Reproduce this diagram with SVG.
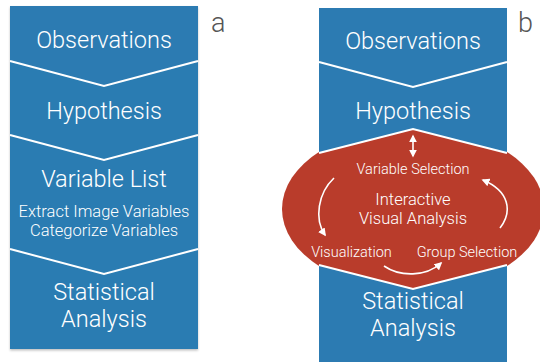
<svg xmlns="http://www.w3.org/2000/svg" width="540" height="362" viewBox="0 0 540 362">
<style>
.blue{fill:#2c7bb2}
.red{fill:#b93c2b}
.sep{fill:none;stroke:#ffffff;stroke-width:2;stroke-linejoin:miter}
.t{font-family:Roboto,"Liberation Sans",sans-serif;font-weight:300;fill:#ffffff;text-anchor:middle}
.big{font-size:23.5px}
.mid{font-size:16.5px}
.sm{font-size:14.5px}
.lsm{font-size:16.5px}
.lbl{font-family:Roboto,"Liberation Sans",sans-serif;font-weight:300;font-size:27px;fill:#555555}
.arr{fill:none;stroke:#ffffff;stroke-width:1.6}
</style>
<defs>
<marker id="ah" viewBox="0 0 10 10" refX="8" refY="5" markerUnits="userSpaceOnUse" markerWidth="8" markerHeight="8" orient="auto-start-reverse">
<path d="M0,0 L10,5 L0,10 z" fill="#ffffff"/>
</marker>
<clipPath id="redclip">
<polygon points="200,100 319,100 319,153 413,129 507,153 507,100 560,100 560,320 507,320 507,265 413,289 319,265 319,320 200,320"/>
</clipPath>
<filter id="sh" x="-5%" y="-5%" width="110%" height="110%">
<feDropShadow dx="0" dy="1.5" stdDeviation="1" flood-color="#000000" flood-opacity="0.25"/>
</filter>
</defs>

<g id="column-a" filter="url(#sh)">
<rect x="10" y="6" width="188" height="343" class="blue"/>
</g>
<g id="observations-a">
<polygon points="10,6 198,6 198,61 104,86 10,61" class="blue"/>
<text x="104" y="48" class="t big">Observations</text>
</g>
<g id="hypothesis-a">
<polyline points="10,61 104,86 198,61" class="sep"/>
<text x="104" y="119" class="t big">Hypothesis</text>
</g>
<g id="variable-list-a">
<polyline points="10,135 104,160 198,135" class="sep"/>
<text x="104" y="187" class="t big">Variable List</text>
<text x="104" y="217" class="t lsm">Extract Image Variables</text>
<text x="104" y="236" class="t lsm">Categorize Variables</text>
</g>
<g id="statistical-a">
<polyline points="10,249 104,274 198,249" class="sep"/>
<text x="104" y="300" class="t big">Statistical</text>
<text x="104" y="327" class="t big">Analysis</text>
</g>
<text x="211" y="32" class="lbl">a</text>

<g id="column-b">
<rect x="319" y="8" width="188" height="360" class="blue"/>
</g>
<g id="observations-b">
<text x="413" y="49" class="t big">Observations</text>
</g>
<g id="hypothesis-b">
<polyline points="319,62 413,87 507,62" class="sep"/>
<text x="413" y="119" class="t big">Hypothesis</text>
</g>
<g id="interactive-visual-analysis-b">
<ellipse cx="413" cy="209" rx="131" ry="82" class="red" clip-path="url(#redclip)"/>
<polyline points="319,153 413,129 507,153" class="sep"/>
<polyline points="319,265 413,289 507,265" class="sep"/>
<text x="413" y="174" class="t sm">Variable Selection</text>
<text x="413" y="205" class="t mid">Interactive</text>
<text x="413" y="224" class="t mid">Visual Analysis</text>
<text x="351.5" y="257" class="t sm">Visualization</text>
<text x="467" y="257" class="t sm">Group Selection</text>
</g>
<g id="statistical-b">
<text x="413" y="309" class="t big">Statistical</text>
<text x="413" y="336" class="t big">Analysis</text>
</g>
<text x="518" y="32" class="lbl">b</text>

<g id="connectors">
<path d="M413,136 L413,156" class="arr" marker-start="url(#ah)" marker-end="url(#ah)"/>
<path d="M334,178 C318,193 314,219 325,235" class="arr" marker-end="url(#ah)"/>
<path d="M500,228 C513,211 509,191 483,180" class="arr" marker-end="url(#ah)"/>
<path d="M384,266 C400,277 426,277 441,263" class="arr" marker-end="url(#ah)"/>
</g>
</svg>
